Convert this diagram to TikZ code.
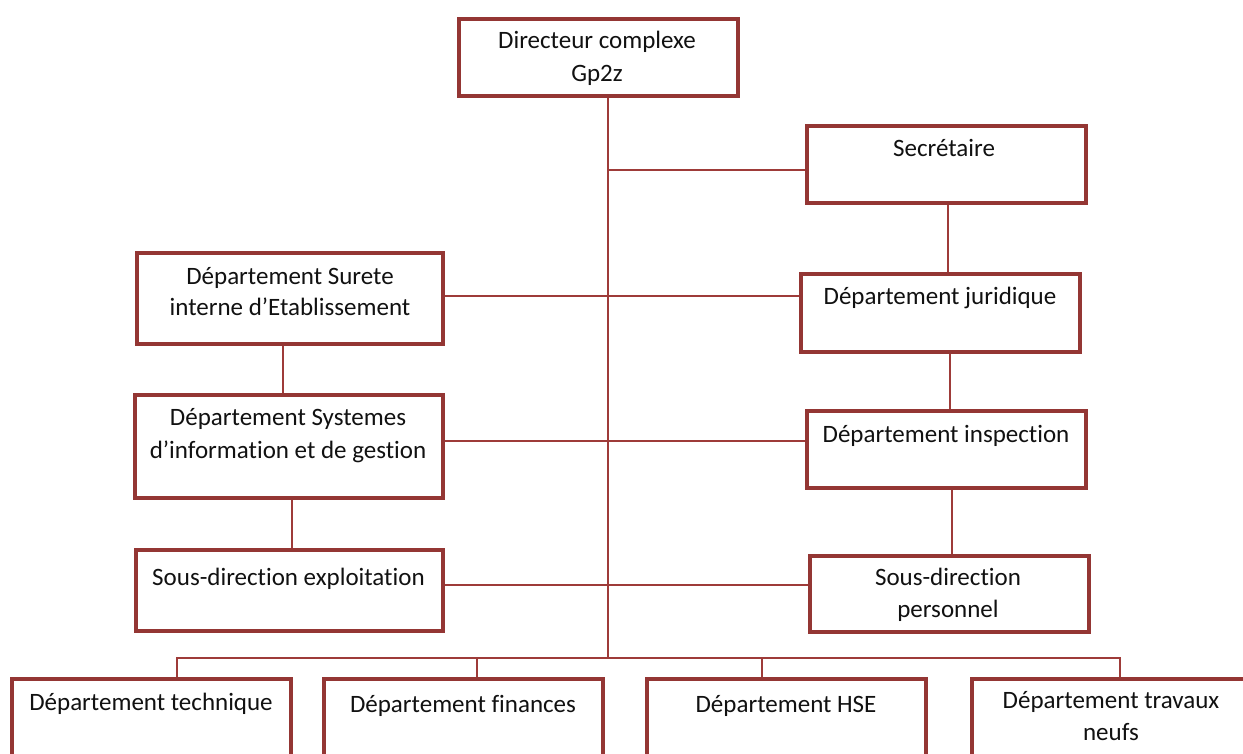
\documentclass[tikz,border=0pt]{standalone}
\usepackage{fontspec}
\setmainfont[Ligatures={NoCommon}]{Carlito}
\usetikzlibrary{calc}
\definecolor{boxred}{HTML}{943634}
\definecolor{linkred}{HTML}{9E3B39}
\definecolor{txt}{HTML}{111111}
\tikzset{
  orgbox/.style={draw=boxred, line width=4.4pt, rectangle, inner sep=0pt, fill=white},
  link/.style={draw=linkred, line width=1.6pt},
  lbl/.style={anchor=base, inner sep=0pt, text=txt, font=\fontsize{25}{33}\selectfont}
}
\begin{document}
\begin{tikzpicture}[x=1pt,y=-1pt]
\useasboundingbox (0,0) rectangle (1243,754);
\clip (0,0) rectangle (1243,754);
% boxes
\node[orgbox, minimum width=279pt, minimum height=77pt] (dir) at (598.5,57.5) {};
\node[orgbox, minimum width=279pt, minimum height=77pt] (sec) at (946.5,164.5) {};
\node[orgbox, minimum width=306pt, minimum height=91pt] (sur) at (290,298.5) {};
\node[orgbox, minimum width=279pt, minimum height=78pt] (jur) at (940.5,313) {};
\node[orgbox, minimum width=308pt, minimum height=103pt] (sys) at (289,446.5) {};
\node[orgbox, minimum width=279pt, minimum height=77pt] (ins) at (946.5,449.5) {};
\node[orgbox, minimum width=307pt, minimum height=81pt] (exp) at (289.5,590.5) {};
\node[orgbox, minimum width=279pt, minimum height=76pt] (per) at (949.5,594) {};
\node[orgbox, minimum width=279pt, minimum height=110pt] (tec) at (151.5,734) {};
\node[orgbox, minimum width=279pt, minimum height=110pt] (fin) at (463.5,734) {};
\node[orgbox, minimum width=279pt, minimum height=110pt] (hse) at (786.5,734) {};
\node[orgbox, minimum width=279pt, minimum height=110pt] (tra) at (1111.5,734) {};
% spine
\coordinate (bus) at (608,658);
\coordinate (secJ) at (608,170);
\draw[link] (dir.south -| bus) -- (bus);
\draw[link] (secJ) -- (secJ -| sec.west);
% right column
\draw[link] ([xshift=1.5pt]sec.south) -- ([xshift=1.5pt]sec.south |- jur.north);
\draw[link] ([xshift=9.5pt]jur.south) -- ([xshift=9.5pt]jur.south |- ins.north);
\draw[link] ([xshift=5.5pt]ins.south) -- ([xshift=5.5pt]ins.south |- per.north);
% left column
\draw[link] ([xshift=-7pt]sur.south) -- ([xshift=-7pt]sur.south |- sys.north);
\draw[link] ([xshift=3pt]sys.south) -- ([xshift=3pt]sys.south |- exp.north);
% horizontals
\draw[link] ([yshift=2.5pt]sur.east) -- ([yshift=2.5pt]sur.east -| jur.west);
\draw[link] ([yshift=5.5pt]sys.east) -- ([yshift=5.5pt]sys.east -| ins.west);
\draw[link] ([yshift=5.5pt]exp.east) -- ([yshift=5.5pt]exp.east -| per.west);
% bottom bus
\draw[link] ([xshift=25.5pt]tec.north) |- (bus) -| ([xshift=8.5pt]tra.north);
\draw[link] ([xshift=13.5pt]fin.north) -- ([xshift=13.5pt]fin.north |- bus);
\draw[link] ([xshift=-24.5pt]hse.north) -- ([xshift=-24.5pt]hse.north |- bus);
% labels
\node[lbl] (dirA) at (597,49) {Directeur complexe};
\node[lbl] (dirB) at (597,82) {Gp2z};
\node[lbl] (secA) at (944,157) {Secrétaire};
\node[lbl] (surA) at (290,284) {Département Surete};
\node[lbl] (surB) at (290,316) {interne d’Etablissement};
\node[lbl] (jurA) at (940,305) {Département juridique};
\node[lbl] (sysA) at (288,425) {Département Systemes};
\node[lbl] (sysB) at (288,458) {d’information et de gestion};
\node[lbl] (insA) at (946,442) {Département inspection};
\node[lbl] (expA) at (288.5,585) {Sous-direction exploitation};
\node[lbl] (perA) at (948,585) {Sous-direction};
\node[lbl] (perB) at (948,617) {personnel};
\node[lbl] (tecA) at (151,710) {Département technique};
\node[lbl] (finA) at (463,712) {Département finances};
\node[lbl] (hseA) at (786,712) {Département HSE};
\node[lbl] (traA) at (1111,708) {Département travaux};
\node[lbl] (traB) at (1111,740) {neufs};
\end{tikzpicture}
\end{document}
